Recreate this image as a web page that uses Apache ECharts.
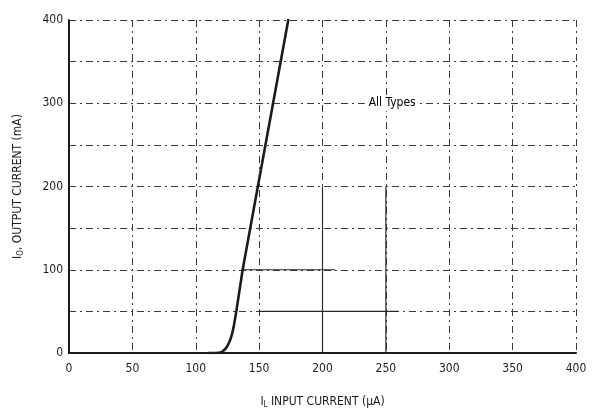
<!DOCTYPE html>
<html>
<head>
<meta charset="utf-8">
<script src="https://cdn.jsdelivr.net/npm/echarts@6/dist/echarts.min.js"></script>
<style>
html,body{margin:0;padding:0;background:#ffffff;}
#chart{width:597px;height:416px;}
</style>
</head>
<body>
<div id="chart"></div>
<script>
// Input current (µA) vs output current (mA), "All Types"
const inputCurrent = [110, 116, 119, 121, 122.5, 124, 125.5, 127, 128.5, 130, 132, 137, 149, 161, 173];
const outputCurrent = [0, 0, 0.5, 1.5, 3, 6, 10, 15, 22, 32, 50, 100, 200, 300, 400];
const xTicks = [0, 50, 100, 150, 200, 250, 300, 350, 400];
const yTicks = [0, 100, 200, 300, 400];
const annotation = { x: 255, y: 300, text: 'All Types' };
// grid segments that print as continuous lines in the original
const solidGridX = [[200, 0, 200], [250, 0, 200]];      // [x, yFrom, yTo]
const solidGridY = [[100, 136, 210], [50, 150, 260]];   // [y, xFrom, xTo]

const FONT = '"Liberation Sans Narrow", "DejaVu Sans Condensed", "Liberation Sans", sans-serif';
const INK = '#1c1c1c';

const segData = [];
solidGridX.forEach(s => { segData.push([s[0], s[1]], [s[0], s[2]], [null, null]); });
solidGridY.forEach(s => { segData.push([s[1], s[0]], [s[2], s[0]], [null, null]); });

const chart = echarts.init(document.getElementById('chart'), null, { renderer: 'canvas' });
chart.setOption({
  backgroundColor: '#ffffff',
  animation: false,
  grid: { left: 69, right: 21, top: 20, bottom: 63, containLabel: false },
  xAxis: {
    type: 'value', min: 0, max: 400, interval: 50,
    name: '{i|I}{s|L} {t|INPUT CURRENT (µA)}',
    nameLocation: 'middle', nameGap: 42,
    nameTextStyle: {
      rich: {
        i: { fontFamily: FONT, fontSize: 12, color: INK },
        s: { fontFamily: FONT, fontSize: 8, color: INK, padding: [6, 0, 0, 0] },
        t: { fontFamily: FONT, fontSize: 12, color: INK }
      }
    },
    axisLine: { show: true, onZero: false, lineStyle: { color: INK, width: 2 } },
    axisTick: { show: false },
    axisLabel: {
      show: true, margin: 10, fontFamily: FONT, fontSize: 12, color: INK,
      formatter: v => xTicks.includes(v) ? String(v) : ''
    },
    splitLine: { show: true, lineStyle: { color: '#3a3a3a', width: 1, type: [7, 4, 2, 4] } }
  },
  yAxis: {
    type: 'value', min: 0, max: 400, interval: 50,
    name: '{i|I}{s|O}{t|, OUTPUT CURRENT (mA)}',
    nameLocation: 'middle', nameGap: 44, nameRotate: 90,
    nameTextStyle: {
      rich: {
        i: { fontFamily: FONT, fontSize: 12, color: INK },
        s: { fontFamily: FONT, fontSize: 8, color: INK, padding: [6, 0, 0, 0] },
        t: { fontFamily: FONT, fontSize: 12, color: INK }
      }
    },
    axisLine: { show: true, onZero: false, lineStyle: { color: INK, width: 2 } },
    axisTick: { show: false },
    axisLabel: {
      show: true, margin: 6, fontFamily: FONT, fontSize: 12, color: INK,
      formatter: v => yTicks.includes(v) ? String(v) : ''
    },
    splitLine: { show: true, lineStyle: { color: '#3a3a3a', width: 1, type: [7, 4, 2, 4] } }
  },
  series: [
    {
      type: 'line',
      data: segData,
      connectNulls: false,
      showSymbol: false,
      silent: true,
      lineStyle: { color: '#2a2a2a', width: 1.2 },
      z: 3
    },
    {
      type: 'line',
      data: inputCurrent.map((x, i) => [x, outputCurrent[i]]),
      showSymbol: false,
      smooth: false,
      lineStyle: { color: INK, width: 2.6, join: 'round', cap: 'round' },
      z: 5
    },
    {
      type: 'scatter',
      data: [[annotation.x, annotation.y]],
      symbolSize: 0,
      itemStyle: { opacity: 1 },
      label: {
        show: true, position: 'inside', formatter: annotation.text,
        fontFamily: FONT, fontSize: 12, color: '#000000', opacity: 1,
        backgroundColor: '#ffffff', padding: [2, 4]
      },
      z: 6
    }
  ]
});
</script>
</body>
</html>
